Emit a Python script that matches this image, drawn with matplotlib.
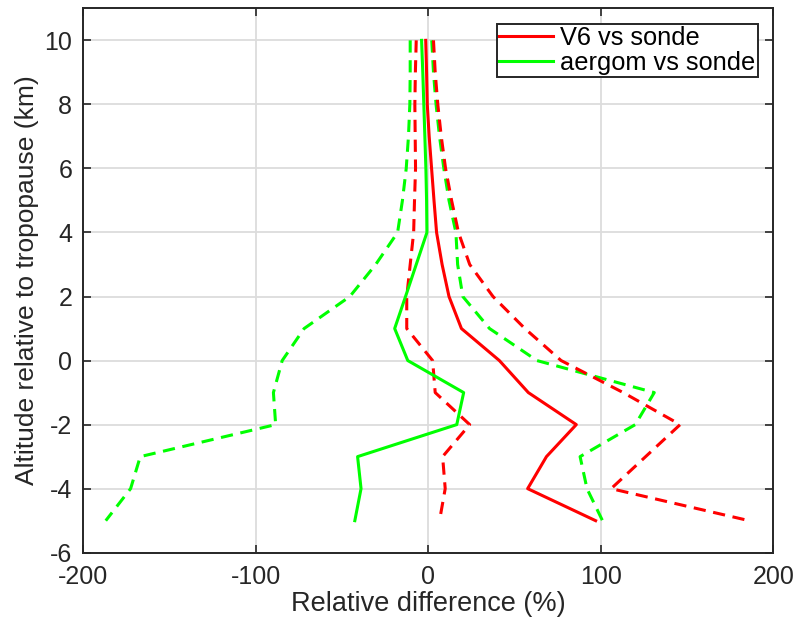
import numpy as np
import matplotlib.pyplot as plt

plt.rcParams['font.family'] = ['Liberation Sans', 'DejaVu Sans']
plt.rcParams['axes.unicode_minus'] = False

# altitude relative to tropopause (km)
alt = [10, 9, 8, 7, 6, 5, 4, 3, 2, 1, 0, -1, -2, -3, -4, -5]

# V6 vs sonde: mean and +/- spread (%)
v6_mean = [-1.5, -1.0, -0.6, 0.5, 1.9, 3.3, 4.8, 8.0, 12.0, 19.2, 41.2, 58.0, 85.8, 68.5, 57.6, 97.0]
v6_hi = [3.0, 4.0, 5.5, 7.5, 10.0, 13.5, 17.5, 24.0, 37.5, 56.0, 77.0, 113.0, 146.0, 126.0, 106.0, 186.0]
v6_lo = [-7.0, -7.5, -7.8, -7.6, -7.4, -8.0, -8.5, -10.5, -12.5, -12.5, 2.5, 4.0, 24.0, 8.3, 9.8, 6.5]

# aergom vs sonde
ae_mean = [-3.9, -3.2, -2.6, -2.0, -1.4, -1.0, -0.8, -7.0, -13.2, -19.5, -11.9, 20.5, 16.5, -41.0, -39.0, -42.6]
ae_hi = [2.0, 3.0, 4.5, 6.5, 9.0, 12.0, 16.0, 17.0, 20.0, 35.5, 63.0, 131.0, 120.0, 88.0, 92.0, 101.0]
ae_lo = [-10.5, -10.5, -10.7, -11.5, -12.8, -15.0, -17.8, -30.5, -45.5, -72.0, -84.7, -89.8, -88.5, -167.0, -172.6, -187.0]

fig = plt.figure(figsize=(7.99, 6.21), dpi=100)
ax = fig.add_axes([0.1043, 0.110, 0.8635, 0.8766])

lw = 2.2
dash = (4, 2.5)
ax.plot(v6_mean, alt, color=(1, 0, 0), lw=lw, label='V6 vs sonde', zorder=3)
ax.plot(ae_mean, alt, color=(0, 1, 0), lw=lw, label='aergom vs sonde', zorder=3)
ax.plot(ae_hi, alt, color=(0, 1, 0), lw=lw, dashes=dash, zorder=2)
ax.plot(ae_lo, alt, color=(0, 1, 0), lw=lw, dashes=dash, zorder=2)
ax.plot(v6_hi, alt, color=(1, 0, 0), lw=lw, dashes=dash, zorder=2)
ax.plot(v6_lo, alt, color=(1, 0, 0), lw=lw, dashes=dash, zorder=2)

ax.set_xlim(-200, 200)
ax.set_ylim(-6, 11)
ax.set_xticks([-200, -100, 0, 100, 200])
ax.set_yticks([-6, -4, -2, 0, 2, 4, 6, 8, 10])
ax.grid(True, color='#dcdcdc', lw=1.3)
ax.set_axisbelow(True)
ax.tick_params(direction='in', length=6, width=1.2, top=True, right=True,
               labelsize=18, colors='#262626')
ax.tick_params(axis='x', pad=9)
ax.tick_params(axis='y', pad=8)
for s in ax.spines.values():
    s.set_linewidth(1.4)
    s.set_color('#262626')

ax.set_xlabel('Relative difference (%)', fontsize=19.5, color='#262626', labelpad=1)
ax.set_ylabel('Altitude relative to tropopause (km)', fontsize=19, color='#262626', labelpad=4)

leg = ax.legend(loc='upper right', fontsize=18.3, frameon=True, fancybox=False,
                handlelength=2.1, handletextpad=0.3, borderpad=0.1,
                labelspacing=0.02, borderaxespad=0.6)
leg.get_frame().set_edgecolor('#262626')
leg.get_frame().set_linewidth(1.4)
leg.get_frame().set_alpha(1)

fig.savefig('out.png', dpi=100)
